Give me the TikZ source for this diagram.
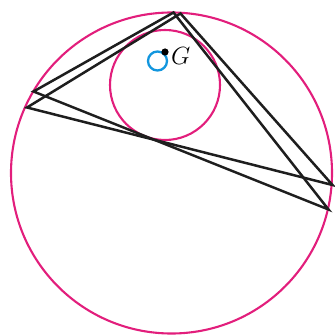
\documentclass[tikz,border=0pt]{standalone}
\usepackage{amsmath,amssymb}
\usepackage{tikz}
\definecolor{circpink}{RGB}{226,30,124}
\definecolor{locusblue}{RGB}{18,150,222}
\definecolor{edgeblack}{RGB}{30,30,30}

\begin{document}
\begin{tikzpicture}[x=1pt,y=-1pt]
    \useasboundingbox (0,0) rectangle (334,336);
    \coordinate (O) at (171.5,173);
    \coordinate (I) at (165,85);
    \coordinate (Gc) at (157.5,61);
    % vertices of the two triangles
    \coordinate (T1) at (173.5,12.5);
    \coordinate (L1) at (33.5,91.5);
    \coordinate (R1) at (328.5,209.5);
    \coordinate (T2) at (180.5,13.5);
    \coordinate (L2) at (27,107.5);
    \coordinate (R2) at (332.5,185);
    \draw[circpink,line width=2.1pt] (O) circle (160.5pt);
    \draw[circpink,line width=2.1pt] (I) circle (55pt);
    \draw[edgeblack,line width=2.5pt,line join=miter] (T1) -- (L1) -- (R1) -- cycle;
    \draw[edgeblack,line width=2.5pt,line join=miter] (T2) -- (L2) -- (R2) -- cycle;
    \draw[locusblue,line width=2.3pt] (Gc) circle (9.5pt);
    \fill[black] (165,52) circle (3.6pt) coordinate (G);
    \node[anchor=west,inner sep=0pt,font=\fontsize{25}{30}\selectfont] (Glab) at (171,56) {$G$};
  \end{tikzpicture}
\end{document}
